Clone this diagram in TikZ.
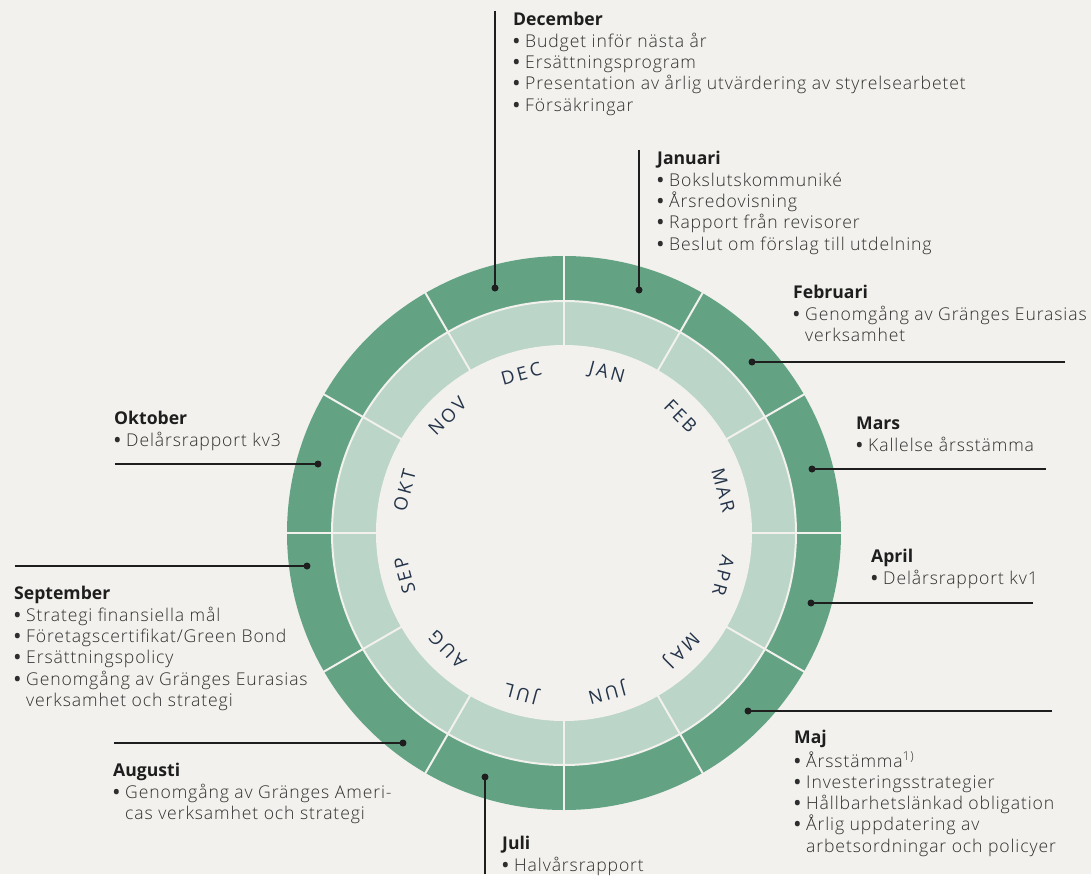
\documentclass[tikz,border=0pt]{standalone}
\usepackage{fontspec}
\setmainfont{Open Sans}[UprightFont=* Light, UprightFeatures={LetterSpace=5}, BoldFont=* Bold]
\newfontfamily\monthfont{Open Sans}[LetterSpace=15]
\usepackage{tikz}
\usetikzlibrary{positioning}

\definecolor{paper}{HTML}{F2F1ED}
\definecolor{ringdark}{HTML}{63A384}
\definecolor{ringlight}{HTML}{BBD5C8}
\definecolor{ink}{HTML}{1E1E1E}
\definecolor{inkbody}{HTML}{2E2E2E}
\definecolor{monthink}{HTML}{24344A}

\newcommand{\mhead}[1]{\textcolor{ink}{\bfseries #1}\strut}
\newcommand{\itm}{\makebox[12pt][l]{\bfseries\textbullet}}
\newcommand{\cnt}{\hspace*{12pt}}

\begin{document}
\begin{tikzpicture}[
        x=1pt, y=1pt,
        % Style for the month texts
        note/.style={anchor=north west, align=left, inner sep=0pt, text=inkbody,
            font=\fontsize{17.6}{21.3}\selectfont},
        month/.style={inner sep=0pt, text=monthink,
            font=\monthfont\fontsize{18.5}{18.5}\selectfont},
        % Style for the leader lines
        leader/.style={draw=ink, line width=1.4pt},
        dot/.style={circle, fill=ink, inner sep=0pt, minimum size=7pt},
        gap/.style={draw=paper, line width=2pt}
    ]
    
    % Background and bounding box
    \fill[paper] (-564, -341) rectangle (527, 533);
    
    % Rings
    \fill[ringdark] (0, 0) circle (277);
    \fill[ringlight] (0, 0) circle (232);
    \fill[paper] (0, 0) circle (188);
    \draw[gap] (0, 0) circle (232);
    \foreach \a in {0,30,...,330}
        \draw[gap] (\a:186) -- (\a:279);
    
    % Month labels
    \foreach \mon [count=\i, evaluate=\i as \ang using 75-30*(\i-1)] in {JAN,FEB,MAR,APR,MAJ,JUN,JUL,AUG,SEP,OKT,NOV,DEC}
        \node[month, rotate=\ang-90] at (\ang:165) (m-\mon) {\mon};
    
    % Dots on the ring
    \node[dot] at (-69, 245) (dec-dot) {};
    \node[dot] at (75, 243) (jan-dot) {};
    \node[dot] at (188, 171) (feb-dot) {};
    \node[dot] at (248, 64) (mar-dot) {};
    \node[dot] at (247, -70) (apr-dot) {};
    \node[dot] at (184, -178) (maj-dot) {};
    \node[dot] at (-79, -244) (jul-dot) {};
    \node[dot] at (-161, -210) (aug-dot) {};
    \node[dot] at (-257, -33) (sep-dot) {};
    \node[dot] at (-246, 69) (okt-dot) {};
    
    % Free ends of the leader lines
    \coordinate (dec-end) at (-69, 522);
    \coordinate (jan-end) at (75, 383);
    \coordinate (feb-end) at (501, 171);
    \coordinate (mar-end) at (482, 64);
    \coordinate (apr-end) at (469, -70);
    \coordinate (maj-end) at (488, -178);
    \coordinate (jul-end) at (-79, -341);
    \coordinate (aug-end) at (-450, -210);
    \coordinate (sep-end) at (-549, -33);
    \coordinate (okt-end) at (-449, 69);
    
    % Leader lines
    \foreach \m in {dec,jan,feb,mar,apr,maj,jul,aug,sep,okt}
        \draw[leader] (\m-end) -- (\m-dot.center);
    
    % Texts
    \node[note] at (-51, 522.9) (dec-note) {\mhead{December}\\[0.8pt]
        \itm Budget inför nästa år\\
        \itm Ersättningsprogram\\
        \itm Presentation av årlig utvärdering av styrelsearbetet\\
        \itm Försäkringar};
    \node[note] at (93, 383.9) (jan-note) {\mhead{Januari}\\[0.8pt]
        \itm Bokslutskommuniké\\
        \itm Årsredovisning\\
        \itm Rapport från revisorer\\
        \itm Beslut om förslag till utdelning};
    \node[note] at (229, 249.9) (feb-note) {\mhead{Februari}\\[0.8pt]
        \itm Genomgång av Gränges Eurasias\\
        \cnt verksamhet};
    \node[note] at (292, 118.9) (mar-note) {\mhead{Mars}\\[0.8pt]
        \itm Kallelse årsstämma};
    \node[note] at (307, -14.1) (apr-note) {\mhead{April}\\[0.8pt]
        \itm Delårsrapport kv1};
    \node[note] at (230, -195.1) (maj-note) {\mhead{Maj}\\[0.8pt]
        \itm Årsstämma\textsuperscript{1)}\\
        \itm Investeringsstrategier\\
        \itm Hållbarhetslänkad obligation\\
        \itm Årlig uppdatering av\\
        \cnt arbetsordningar och policyer};
    \node[note] at (-62, -301.1) (jul-note) {\mhead{Juli}\\[0.8pt]
        \itm Halvårsrapport};
    \node[note] at (-451, -228.1) (aug-note) {\mhead{Augusti}\\[0.8pt]
        \itm Genomgång av Gränges Ameri-\\
        \cnt cas verksamhet och strategi};
    \node[note] at (-550, -51.1) (sep-note) {\mhead{September}\\[0.8pt]
        \itm Strategi finansiella mål\\
        \itm Företagscertifikat/Green Bond\\
        \itm Ersättningspolicy\\
        \itm Genomgång av Gränges Eurasias\\
        \cnt verksamhet och strategi};
    \node[note] at (-450, 123.9) (okt-note) {\mhead{Oktober}\\[0.8pt]
        \itm Delårsrapport kv3};
\end{tikzpicture}
\end{document}
